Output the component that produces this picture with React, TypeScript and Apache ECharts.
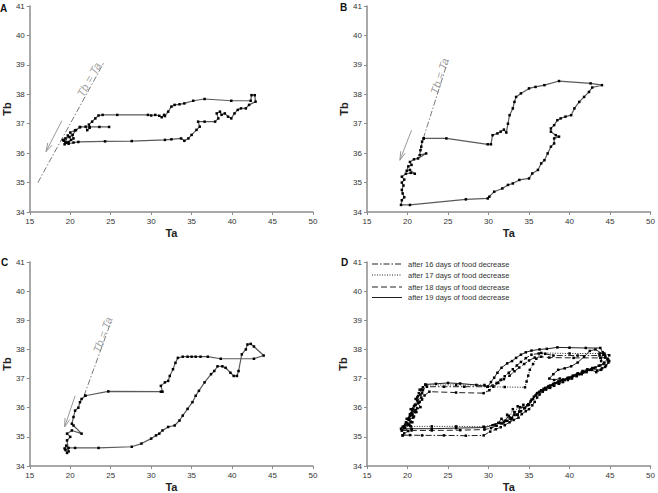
import React, { useEffect, useRef } from "react";
import * as echarts from "echarts";

type Pt = [number, number];

// ---- axis ticks ----
const taRange = { min: 15, max: 50, interval: 5 };
const tbRange = { min: 34, max: 41, interval: 1 };
const panelLetters = ["A", "B", "C", "D"];
const legendLabels = [
  "after 16 days of food decrease",
  "after 17 days of food decrease",
  "after 18 days of food decrease",
  "after 19 days of food decrease",
];

// ---- panel A trajectory (Ta, Tb) ----
const panelA: Pt[] = [
  [24.8, 36.89], [23.6, 36.89], [22.4, 36.89], [21.2, 36.89], [20.7, 36.78], [20.3, 36.62], [19.9, 36.55],
  [19.4, 36.5], [19.2, 36.42], [19.6, 36.35], [20.1, 36.45], [19.7, 36.6], [19.3, 36.3], [19.8, 36.38],
  [20.4, 36.5], [20.0, 36.7], [20.6, 36.78], [21.2, 36.88], [21.9, 36.9], [22.1, 36.78], [22.4, 36.86],
  [22.3, 36.97], [22.7, 37.07], [23.1, 37.18], [23.5, 37.28], [24.0, 37.3], [25.8, 37.3], [29.6, 37.3],
  [30.0, 37.28], [30.5, 37.3], [31.0, 37.27], [31.3, 37.22], [31.6, 37.3], [31.7, 37.26], [32.1, 37.41],
  [32.5, 37.58], [32.9, 37.64], [33.5, 37.66], [34.1, 37.69], [35.2, 37.78], [36.6, 37.84], [39.9, 37.78],
  [42.3, 37.78], [42.4, 37.97], [42.8, 37.97], [42.9, 37.75], [42.1, 37.64], [41.7, 37.52], [41.1, 37.52],
  [40.7, 37.47], [40.3, 37.35], [39.9, 37.18], [39.5, 37.24], [39.1, 37.35], [38.7, 37.3], [38.5, 37.41],
  [38.1, 37.35], [38.3, 37.18], [37.9, 37.07], [36.6, 37.07], [35.8, 37.07], [36.0, 36.9], [35.6, 36.79],
  [35.0, 36.62], [34.6, 36.5], [34.1, 36.42], [33.7, 36.5], [32.5, 36.47], [31.7, 36.45], [27.6, 36.41],
  [24.3, 36.4], [21.0, 36.38], [20.4, 36.36], [19.8, 36.32], [19.4, 36.38], [19.1, 36.45],
];

// ---- panel B trajectory ----
const panelB: Pt[] = [
  [22.0, 36.5], [24.8, 36.5], [29.9, 36.3], [30.3, 36.3], [30.5, 36.61], [31.1, 36.67], [31.5, 36.73],
  [31.9, 36.8], [32.2, 36.7], [32.4, 37.0], [32.6, 37.29], [33.0, 37.52], [33.2, 37.74], [33.4, 37.91],
  [34.0, 38.03], [35.0, 38.2], [35.8, 38.25], [36.9, 38.31], [38.7, 38.45], [42.6, 38.37], [44.0, 38.31],
  [42.8, 38.23], [42.4, 38.08], [41.8, 37.91], [41.2, 37.74], [40.6, 37.52], [40.2, 37.29], [39.5, 37.24],
  [38.9, 37.18], [38.5, 37.12], [38.1, 36.95], [37.7, 36.84], [37.7, 36.73], [38.3, 36.61], [38.7, 36.56],
  [38.1, 36.5], [38.1, 36.33], [37.7, 36.22], [37.3, 35.99], [36.9, 35.76], [36.5, 35.65], [36.1, 35.43],
  [35.4, 35.31], [35.0, 35.14], [33.8, 35.09], [33.0, 34.97], [32.4, 34.92], [31.7, 34.8], [30.7, 34.69],
  [30.1, 34.52], [29.9, 34.46], [27.2, 34.43], [20.3, 34.24], [19.2, 34.24], [19.3, 34.4], [19.6, 34.5],
  [19.4, 34.63], [19.3, 34.75], [19.5, 34.9], [19.3, 35.0], [19.6, 35.1], [19.3, 35.2], [19.8, 35.3],
  [20.4, 35.33], [20.9, 35.3], [20.3, 35.43], [19.9, 35.4], [20.1, 35.55], [20.5, 35.6], [20.3, 35.7],
  [20.8, 35.79], [21.3, 35.82], [22.3, 35.99], [21.5, 35.93], [21.6, 36.1], [21.7, 36.22], [21.8, 36.39],
  [22.0, 36.5],
];

// ---- panel C trajectory ----
const panelC: Pt[] = [
  [21.86, 36.41], [24.7, 36.56], [31.2, 36.55], [31.4, 36.55], [31.2, 36.75], [31.7, 36.87], [32.1, 36.92],
  [32.3, 37.09], [32.7, 37.32], [33.0, 37.54], [33.3, 37.71], [33.9, 37.75], [34.5, 37.75], [35.0, 37.75],
  [35.5, 37.75], [36.1, 37.75], [37.0, 37.75], [38.6, 37.68], [42.7, 37.68], [43.9, 37.79], [42.7, 38.1],
  [42.3, 38.19], [41.9, 38.17], [41.7, 38.0], [41.2, 37.83], [40.8, 37.26], [40.6, 37.09], [40.2, 37.09],
  [39.8, 37.2], [39.2, 37.37], [38.8, 37.42], [38.2, 37.42], [37.8, 37.26], [37.4, 37.15], [36.6, 36.87],
  [35.9, 36.58], [35.5, 36.41], [35.1, 36.19], [34.5, 35.96], [33.9, 35.73], [33.5, 35.56], [32.9, 35.39],
  [32.1, 35.34], [31.4, 35.22], [31.0, 35.11], [30.6, 35.05], [30.0, 34.94], [28.8, 34.77], [27.6, 34.66],
  [23.5, 34.62], [20.6, 34.62], [19.8, 34.62], [19.4, 34.55], [19.6, 34.45], [19.3, 34.6], [19.5, 34.7],
  [19.8, 34.5], [19.6, 34.88], [20.0, 35.0], [19.6, 35.11], [20.2, 35.22], [21.4, 35.11], [20.4, 35.39],
  [20.2, 35.45], [20.4, 35.68], [20.6, 35.9], [21.0, 36.0], [21.2, 36.19], [21.4, 36.3], [21.86, 36.41],
];

// ---- panel D trajectories ----
const day16: Pt[] = [
  [19.4, 35.05], [20.3, 35.06], [21.8, 35.05], [24.5, 35.05], [27.2, 35.04], [29.4, 35.05], [30.2, 35.18],
  [30.9, 35.26], [31.5, 35.33], [32.0, 35.4], [32.6, 35.5], [33.1, 35.58], [33.7, 35.66], [34.1, 35.78],
  [34.6, 35.88], [35.0, 35.95], [35.4, 36.08], [35.7, 36.2], [36.0, 36.35], [36.3, 36.45], [36.7, 36.55],
  [37.1, 36.62], [37.6, 36.68], [38.1, 36.75], [38.7, 36.82], [39.2, 36.88], [39.8, 36.95], [40.3, 37.0],
  [40.9, 37.08], [41.5, 37.15], [42.1, 37.22], [42.7, 37.3], [43.2, 37.38], [43.8, 37.45], [44.3, 37.55],
  [44.7, 37.68], [44.4, 37.79], [43.7, 37.79], [41.0, 37.79], [38.0, 37.79], [37.0, 37.85], [36.2, 37.86],
  [35.3, 37.82], [34.6, 37.7], [34.0, 37.57], [33.5, 37.45], [33.0, 37.32], [32.5, 37.2], [32.0, 37.08],
  [31.5, 36.96], [31.0, 36.85], [30.5, 36.76], [29.9, 36.72], [27.0, 36.72], [24.5, 36.72], [22.4, 36.72],
  [21.9, 36.6], [21.6, 36.45], [21.2, 36.35], [21.5, 36.2], [21.0, 36.1], [20.7, 35.95], [21.1, 35.85],
  [20.6, 35.75], [20.2, 35.65], [20.6, 35.5], [20.0, 35.42], [19.7, 35.3], [20.1, 35.2], [19.6, 35.12],
  [19.4, 35.05],
];
const day17: Pt[] = [
  [19.6, 35.35], [20.4, 35.36], [23.0, 35.36], [26.0, 35.36], [29.4, 35.35], [30.8, 35.42], [31.4, 35.48],
  [32.0, 35.55], [32.3, 35.76], [32.6, 35.66], [33.0, 35.95], [33.2, 35.75], [33.6, 36.05], [33.8, 35.86],
  [34.3, 36.1], [34.8, 36.08], [35.2, 36.22],
  [35.6, 36.38], [36.0, 36.5], [36.5, 36.6], [37.0, 36.68], [37.6, 36.76], [38.2, 36.84], [38.8, 36.9],
  [39.4, 36.96], [40.0, 37.03], [40.6, 37.1], [41.2, 37.16], [41.8, 37.22], [42.4, 37.3], [43.0, 37.36],
  [43.6, 37.44], [44.2, 37.5], [44.8, 37.62], [44.9, 37.8], [44.3, 37.86], [43.7, 37.86], [40.0, 37.86],
  [36.5, 37.88], [35.9, 37.68], [35.5, 37.5], [35.1, 37.3], [34.9, 37.1], [34.7, 36.9], [34.5, 36.7],
  [32.0, 36.71], [29.9, 36.72], [29.5, 36.78], [26.0, 36.78], [22.3, 36.78], [21.8, 36.62], [21.4, 36.5],
  [21.7, 36.35], [21.2, 36.25], [20.9, 36.1], [21.2, 35.98], [20.6, 35.9], [20.3, 35.78], [20.7, 35.66],
  [20.1, 35.6], [19.8, 35.5], [20.2, 35.42], [19.6, 35.35],
];
const day18: Pt[] = [
  [19.3, 35.22], [20.5, 35.22], [23.0, 35.22], [26.5, 35.23], [29.5, 35.25], [30.3, 35.3], [31.0, 35.38],
  [31.7, 35.46], [32.3, 35.55], [32.9, 35.65], [33.5, 35.76], [34.0, 35.88], [34.5, 35.98], [35.0, 36.1],
  [35.5, 36.3], [35.9, 36.45], [36.3, 36.55], [36.8, 36.65], [37.4, 36.74], [38.0, 36.82], [38.6, 36.9],
  [39.2, 36.97], [39.8, 37.03], [40.4, 37.1], [41.0, 37.18], [41.6, 37.26], [42.2, 37.32], [42.8, 37.36],
  [43.4, 37.28], [44.0, 37.35], [44.5, 37.45], [44.9, 37.6], [44.4, 37.72], [43.8, 37.71], [40.5, 37.71],
  [37.5, 37.72], [36.5, 37.75], [35.7, 37.72], [35.0, 37.62], [34.4, 37.5], [33.8, 37.38], [33.2, 37.25],
  [32.6, 37.1], [31.9, 36.98], [31.2, 36.85], [30.6, 36.72], [30.1, 36.6], [29.4, 36.5], [26.0, 36.52],
  [22.7, 36.55], [22.1, 36.42], [21.8, 36.28], [21.3, 36.15], [21.6, 36.02], [21.0, 35.92], [20.5, 35.82],
  [20.8, 35.7], [20.2, 35.58], [19.9, 35.48], [20.3, 35.38], [19.6, 35.3], [19.3, 35.22],
];
const day19: Pt[] = [
  [43.9, 37.6], [44.1, 37.9], [43.8, 38.05], [42.0, 38.05], [40.0, 38.06], [38.5, 38.07], [37.2, 38.02],
  [36.3, 38.0], [35.3, 37.96], [34.6, 37.9], [34.0, 37.82], [33.4, 37.71], [32.9, 37.6], [32.3, 37.52],
  [31.6, 37.37], [31.1, 37.2], [30.7, 37.03], [30.3, 36.88], [29.9, 36.72], [28.5, 36.78], [26.5, 36.83],
  [25.0, 36.85], [23.5, 36.82], [22.2, 36.8], [21.9, 36.7], [21.5, 36.62], [21.8, 36.5], [21.3, 36.4],
  [21.0, 36.3], [21.4, 36.18], [20.8, 36.05], [20.4, 35.95], [20.9, 35.85], [20.3, 35.72], [19.9, 35.62],
  [20.4, 35.52], [19.7, 35.42], [19.4, 35.35], [19.2, 35.28], [20.5, 35.28], [23.0, 35.28], [26.0, 35.3],
  [29.5, 35.32], [30.5, 35.4], [31.2, 35.48], [31.6, 35.62], [31.9, 35.5], [32.5, 35.72], [32.8, 35.6],
  [33.2, 35.85], [33.6, 35.75], [33.9, 36.02], [34.4, 36.0], [34.9, 36.12], [35.3, 36.28], [35.8, 36.42],
  [36.2, 36.52], [36.7, 36.6], [37.3, 36.7], [37.9, 36.78], [38.5, 36.86], [39.1, 36.94], [39.7, 37.0],
  [40.3, 37.06], [40.9, 37.14], [41.5, 37.2], [42.1, 37.26], [42.7, 37.3], [43.3, 37.22], [43.9, 37.3],
  [44.4, 37.4], [44.8, 37.55], [44.2, 37.82], [43.2, 38.0], [42.5, 37.95], [41.8, 37.75], [41.0, 37.55],
  [40.2, 37.42], [39.4, 37.35], [38.6, 37.3], [38.0, 37.15], [37.5, 37.0], [38.1, 36.95], [38.8, 37.0],
];

// ---- "Tb = Ta" guide lines, label anchors and arrows ----
const diagA: Pt[] = [[16.0, 35.0], [24.1, 39.05]];
const diagB: Pt[] = [[21.95, 36.5], [25.0, 39.15]];
const diagC: Pt[] = [[21.7, 36.41], [25.1, 39.0]];
const diagLabelA: Pt = [22.3, 38.5];
const diagLabelB: Pt = [23.95, 38.62];
const diagLabelC: Pt = [24.0, 38.5];
const arrowA: Pt[] = [[18.96, 37.1], [17.0, 36.05]];
const arrowB: Pt[] = [[20.5, 36.78], [19.06, 35.76]];
const arrowC: Pt[] = [[20.6, 36.41], [19.3, 35.34]];

const GRIDS = [
  { left: 27, top: 6, width: 286, height: 206 },
  { left: 367, top: 6, width: 284, height: 206 },
  { left: 27, top: 262, width: 286, height: 206 },
  { left: 367, top: 262, width: 284, height: 206 },
];
const Y_NAME_GAP = [15, 17, 16, 19];
const FONT = "Arial, 'Liberation Sans', sans-serif";

function headPts(g: number, tail: Pt, tip: Pt): Pt[] {
  const sx = GRIDS[g].width / (taRange.max - taRange.min);
  const sy = GRIDS[g].height / (tbRange.max - tbRange.min);
  const dx = (tail[0] - tip[0]) * sx;
  const dy = -(tail[1] - tip[1]) * sy;
  const L = Math.hypot(dx, dy);
  const ux = dx / L, uy = dy / L;
  const len = 9, a = 0.28;
  const pts: Pt[] = [];
  for (const s of [1, -1]) {
    const c = Math.cos(a * s), si = Math.sin(a * s);
    const rx = ux * c - uy * si, ry = ux * si + uy * c;
    pts.push([tip[0] + (rx * len) / sx, tip[1] - (ry * len) / sy]);
  }
  return [pts[0], tip, pts[1]];
}

export default function App() {
  const ref = useRef<HTMLDivElement>(null);
  useEffect(() => {
    if (!ref.current) return;
    const chart = echarts.init(ref.current, null, { renderer: "svg" });

    const xAxes = GRIDS.map((_, i) => ({
      type: "value",
      gridIndex: i,
      min: taRange.min,
      max: taRange.max,
      interval: taRange.interval,
      name: "Ta",
      nameLocation: "middle",
      nameGap: 15,
      nameTextStyle: { fontFamily: FONT, fontWeight: "bold", fontSize: 11, color: "#222" },
      axisLine: { show: true, onZero: false, lineStyle: { color: "#8c8c8c", width: 1.5 } },
      axisTick: { show: true, length: 3, lineStyle: { color: "#8c8c8c", width: 1 } },
      axisLabel: { fontFamily: FONT, fontSize: 8, color: "#333", margin: 5 },
      splitLine: { show: false },
    }));
    const yAxes = GRIDS.map((_, i) => ({
      type: "value",
      gridIndex: i,
      min: tbRange.min,
      max: tbRange.max,
      interval: tbRange.interval,
      name: "Tb",
      nameLocation: "middle",
      nameGap: Y_NAME_GAP[i],
      nameTextStyle: { fontFamily: FONT, fontWeight: "bold", fontSize: 11, color: "#222" },
      axisLine: { show: true, onZero: false, lineStyle: { color: "#8c8c8c", width: 1.5 } },
      axisTick: { show: true, length: 3, lineStyle: { color: "#8c8c8c", width: 1 } },
      axisLabel: { fontFamily: FONT, fontSize: 8, color: "#333", margin: 5 },
      splitLine: { show: false },
    }));

    const traj = (i: number, data: Pt[]) => ({
      type: "line",
      xAxisIndex: i,
      yAxisIndex: i,
      data,
      symbol: "rect",
      symbolSize: 2.5,
      itemStyle: { color: "#000" },
      lineStyle: { color: "#5a5a5a", width: 1.2 },
      z: 5,
      silent: true,
    });
    const diag = (i: number, data: Pt[]) => ({
      type: "line",
      xAxisIndex: i,
      yAxisIndex: i,
      data,
      symbol: "none",
      lineStyle: { color: "#7a7a7a", width: 1, type: [6, 2, 1.5, 2] },
      z: 2,
      silent: true,
    });
    const diagLabel = (i: number, p: Pt, rot: number) => ({
      type: "scatter",
      xAxisIndex: i,
      yAxisIndex: i,
      data: [p],
      symbolSize: 0,
      label: {
        show: true,
        position: "inside",
        formatter: "Tb = Ta",
        rotate: rot,
        fontFamily: FONT,
        fontStyle: "italic",
        fontSize: 11,
        color: "#8a8a8a",
      },
      silent: true,
    });
    const arrow = (i: number, a: Pt[]) => [
      {
        type: "line",
        xAxisIndex: i,
        yAxisIndex: i,
        data: a,
        symbol: "none",
        lineStyle: { color: "#999", width: 1 },
        silent: true,
      },
      {
        type: "line",
        xAxisIndex: i,
        yAxisIndex: i,
        data: headPts(i, a[0], a[1]),
        symbol: "none",
        lineStyle: { color: "#999", width: 1 },
        silent: true,
      },
    ];
    const dSeries = (data: Pt[], dash: any) => ({
      type: "line",
      xAxisIndex: 3,
      yAxisIndex: 3,
      data,
      symbol: "rect",
      symbolSize: 2.5,
      itemStyle: { color: "#000" },
      lineStyle: { color: "#222", width: 1, type: dash },
      z: 5,
      silent: true,
    });

    const dashes: any[] = [[6, 2, 1.5, 2], [1, 1.5], [6, 3], "solid"];
    const legendY = [264, 275, 287, 297.5];

    const graphic: any[] = [];
    const letterPos: Pt[] = [[0, 3], [340, 2], [1, 257], [341, 257]];
    panelLetters.forEach((l, i) => {
      graphic.push({
        type: "text",
        x: letterPos[i][0],
        y: letterPos[i][1],
        style: { text: l, font: `bold 10px ${FONT}`, fill: "#111" },
      });
    });
    legendLabels.forEach((t, i) => {
      graphic.push({
        type: "line",
        shape: { x1: 372, y1: legendY[i], x2: 402, y2: legendY[i] },
        style: {
          stroke: "#222",
          lineWidth: 1,
          lineDash: dashes[i] === "solid" ? null : dashes[i],
        },
      });
      graphic.push({
        type: "text",
        x: 408,
        y: legendY[i],
        style: { text: t, font: `7.5px ${FONT}`, fill: "#333", verticalAlign: "middle" },
      });
    });

    chart.setOption({
      animation: false,
      backgroundColor: "#fff",
      grid: GRIDS.map((g) => ({ ...g, containLabel: false })),
      xAxis: xAxes,
      yAxis: yAxes,
      series: [
        diag(0, diagA),
        diag(1, diagB),
        diag(2, diagC),
        diagLabel(0, diagLabelA, 61),
        diagLabel(1, diagLabelB, 72),
        diagLabel(2, diagLabelC, 70),
        ...arrow(0, arrowA),
        ...arrow(1, arrowB),
        ...arrow(2, arrowC),
        traj(0, panelA),
        traj(1, panelB),
        traj(2, panelC),
        dSeries(day16, dashes[0]),
        dSeries(day17, dashes[1]),
        dSeries(day18, dashes[2]),
        dSeries(day19, dashes[3]),
      ],
      graphic,
    });
    return () => chart.dispose();
  }, []);
  return (
    <div
      ref={ref}
      style={{ position: "fixed", left: 0, top: 0, width: 658, height: 493, background: "#fff" }}
    />
  );
}
